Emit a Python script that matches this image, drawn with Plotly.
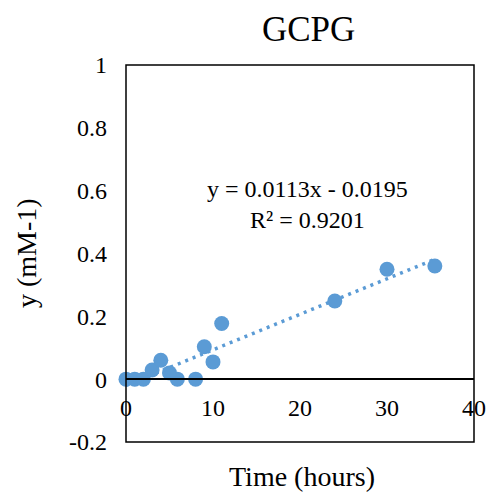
import plotly.graph_objects as go

# Data
time_hours = [0, 1, 2, 3, 4, 5, 5.9, 8, 9, 10, 11, 24, 30, 35.5]
y_values = [0, 0, 0, 0.029, 0.06, 0.02, 0, 0, 0.103, 0.055, 0.177, 0.249, 0.350, 0.360]
slope = 0.0113
intercept = -0.0195
r_squared = 0.9201
x_tick_vals = [0, 10, 20, 30, 40]
x_tick_text = ["0", "10", "20", "30", "40"]
y_tick_vals = [-0.2, 0, 0.2, 0.4, 0.6, 0.8, 1]
y_tick_text = ["-0.2", "0", "0.2", "0.4", "0.6", "0.8", "1"]
chart_title = "GCPG"
x_title = "Time (hours)"
y_title = "y (mM-1)"

BLUE = "#5B9BD5"
FONT = "Liberation Serif"

trend_x = [min(time_hours), max(time_hours)]
trend_y = [slope * v + intercept for v in trend_x]

fig = go.Figure()
fig.add_trace(go.Scatter(
    x=time_hours, y=y_values, mode="markers",
    marker=dict(color=BLUE, size=15, line=dict(width=0)),
    cliponaxis=False, showlegend=False,
))
fig.add_trace(go.Scatter(
    x=trend_x, y=trend_y, mode="lines",
    line=dict(color=BLUE, width=3.5, dash="3px,5px"),
    showlegend=False,
))

sign = "-" if intercept < 0 else "+"
eq_text = f"y = {slope}x {sign} {abs(intercept)}<br>R² = {r_squared}"

fig.update_layout(
    width=498, height=495,
    margin=dict(l=126, r=15, t=65, b=53),
    paper_bgcolor="white", plot_bgcolor="white",
    font=dict(family=FONT, size=24, color="black"),
    xaxis=dict(
        range=[0, 40], tickmode="array", tickvals=x_tick_vals, ticktext=x_tick_text,
        anchor="free", position=0.2 / 1.2,
        showline=True, linecolor="black", linewidth=1.5,
        showgrid=False, zeroline=False, ticks="",
        ticklabelstandoff=7,
        tickfont=dict(family=FONT, size=24, color="black"),
    ),
    yaxis=dict(
        range=[-0.2, 1], tickmode="array", tickvals=y_tick_vals, ticktext=y_tick_text,
        showline=False, showgrid=False, zeroline=False, ticks="",
        ticklabelstandoff=18,
        tickfont=dict(family=FONT, size=24, color="black"),
    ),
    shapes=[dict(type="rect", xref="paper", yref="paper", x0=0, x1=1, y0=0, y1=1,
                 line=dict(color="black", width=1.5), layer="above")],
    annotations=[
        dict(text=chart_title, xref="paper", yref="paper", x=(313 - 126) / 357, y=1 + (65 - 30) / 377,
             showarrow=False, xanchor="center", yanchor="middle",
             font=dict(family=FONT, size=35, color="black")),
        dict(text=x_title, xref="paper", yref="paper", x=(307 - 126) / 357, y=-(476 - 442) / 377,
             showarrow=False, xanchor="center", yanchor="middle",
             font=dict(family=FONT, size=28, color="black")),
        dict(text=y_title, xref="paper", yref="paper", x=-(126 - 24) / 357, y=0.5,
             showarrow=False, xanchor="center", yanchor="middle", textangle=-90,
             font=dict(family=FONT, size=28, color="black")),
        dict(text=eq_text, xref="paper", yref="paper", x=(312 - 126) / 357, y=(442 - 205) / 377,
             showarrow=False, xanchor="center", yanchor="middle", align="center",
             font=dict(family=FONT, size=24, color="black")),
    ],
)

fig.write_html("out.html")
